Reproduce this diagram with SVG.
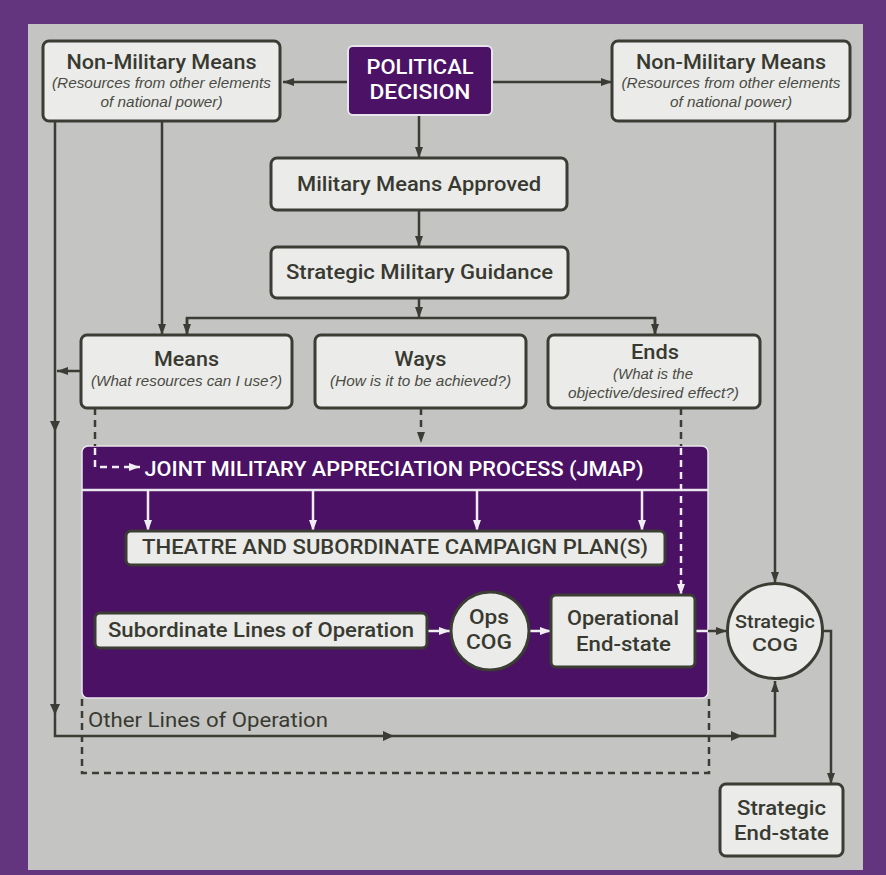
<svg xmlns="http://www.w3.org/2000/svg" width="886" height="875" viewBox="0 0 886 875">
<defs>
<style>
.box{fill:#ebebe9;stroke:#3b3d34;stroke-width:3}
.t{font-family:Roboto,"Liberation Sans",Arial,sans-serif;fill:#383a31;text-anchor:middle;font-weight:500}
.h{font-size:21px}
.m{font-size:20px}
.s{font-size:18px}
.i{font-family:"Liberation Sans",Arial,sans-serif;font-size:15px;font-style:italic;font-weight:normal;fill:#4a4b45}
.w{fill:#ffffff}
.ln{fill:none;stroke:#3b3d34;stroke-width:2.5}
.lw{fill:none;stroke:#f0eef2;stroke-width:2.5}
.d{stroke-dasharray:7 5}
</style>
<marker id="ad" markerUnits="userSpaceOnUse" markerWidth="12" markerHeight="10" refX="11" refY="5" orient="auto"><path d="M0,1 L11,5 L0,9 z" fill="#3b3d34"/></marker>
<marker id="aw" markerUnits="userSpaceOnUse" markerWidth="12" markerHeight="10" refX="11" refY="5" orient="auto"><path d="M0,1 L11,5 L0,9 z" fill="#f0eef2"/></marker>
</defs>
<rect x="0" y="0" width="886" height="875" fill="#64357f"/>
<rect x="28" y="24" width="835" height="846" fill="#c4c4c2"/>

<g id="jmap">
<rect x="82" y="446" width="626" height="252" rx="6" fill="#4a1165" stroke="#e9e6ec" stroke-width="1.5"/>
<line x1="82" y1="490" x2="708" y2="490" stroke="#e9e6ec" stroke-width="2.5"/>
<text class="t w m" x="394" y="476" textLength="499" lengthAdjust="spacingAndGlyphs">JOINT MILITARY APPRECIATION PROCESS (JMAP)</text>
</g>

<g id="connectors">
<path class="ln" d="M348,82 H283" marker-end="url(#ad)"/>
<path class="ln" d="M492,82 H612" marker-end="url(#ad)"/>
<path class="ln" d="M419,115 V158" marker-end="url(#ad)"/>
<path class="ln" d="M419,210 V247" marker-end="url(#ad)"/>
<path class="ln" d="M419,298 V318" marker-end="url(#ad)"/>
<path class="ln" d="M187,334 V318 H655 V334" />
<path class="ln" d="M187,318 V335" marker-end="url(#ad)"/>
<path class="ln" d="M655,318 V335" marker-end="url(#ad)"/>
<path class="ln" d="M162,121 V335" marker-end="url(#ad)"/>
<path class="ln" d="M55,121 V736 H775 V681" marker-end="url(#ad)"/>
<path d="M50,421 L55,432 L60,421 z" fill="#3b3d34"/>
<path d="M50,704 L55,715 L60,704 z" fill="#3b3d34"/>
<path d="M383,731 L394,736 L383,741 z" fill="#3b3d34"/>
<path d="M731,731 L742,736 L731,741 z" fill="#3b3d34"/>
<path class="ln" d="M81,371 H57" marker-end="url(#ad)"/>
<path class="ln" d="M775,121 V583" marker-end="url(#ad)"/>
<path class="ln d" d="M95,408 V446"/>
<path class="lw d" d="M95,448 V467 H140" marker-end="url(#aw)"/>
<path class="ln d" d="M421,408 V443" marker-end="url(#ad)"/>
<path class="ln d" d="M681,408 V446"/>
<path class="lw d" d="M681,448 V595" marker-end="url(#aw)"/>
<path class="lw" d="M148,490 V531" marker-end="url(#aw)"/>
<path class="lw" d="M313,490 V531" marker-end="url(#aw)"/>
<path class="lw" d="M477,490 V531" marker-end="url(#aw)"/>
<path class="lw" d="M642,490 V531" marker-end="url(#aw)"/>
<path class="lw" d="M427,631 H450" marker-end="url(#aw)"/>
<path class="lw" d="M529,631 H551" marker-end="url(#aw)"/>
<path class="lw" d="M695,631 H708"/>
<path class="ln" d="M708,631 H727" marker-end="url(#ad)"/>
<path class="ln" d="M822,631 H831 V784" marker-end="url(#ad)"/>
<path class="ln d" d="M82,699 V773 H709 V699"/>
</g>

<g id="nmm-left">
<rect class="box" x="43" y="41" width="237" height="80" rx="6"/>
<text class="t h" x="161.5" y="69" textLength="190" lengthAdjust="spacingAndGlyphs">Non-Military Means</text>
<text class="t i" x="161.5" y="88" textLength="219" lengthAdjust="spacingAndGlyphs">(Resources from other elements</text>
<text class="t i" x="161.5" y="107" textLength="122" lengthAdjust="spacingAndGlyphs">of national power)</text>
</g>

<g id="political">
<rect x="348" y="46" width="144" height="69" rx="5" fill="#4b1266" stroke="#e6e3ea" stroke-width="2"/>
<text class="t w m" x="420" y="74" textLength="107" lengthAdjust="spacingAndGlyphs">POLITICAL</text>
<text class="t w m" x="420" y="99" textLength="101" lengthAdjust="spacingAndGlyphs">DECISION</text>
</g>

<g id="nmm-right">
<rect class="box" x="612" y="41" width="238" height="80" rx="6"/>
<text class="t h" x="731" y="69" textLength="190" lengthAdjust="spacingAndGlyphs">Non-Military Means</text>
<text class="t i" x="731" y="88" textLength="219" lengthAdjust="spacingAndGlyphs">(Resources from other elements</text>
<text class="t i" x="731" y="107" textLength="122" lengthAdjust="spacingAndGlyphs">of national power)</text>
</g>

<g id="mma">
<rect class="box" x="271" y="158" width="296" height="52" rx="6"/>
<text class="t m" x="419" y="191" textLength="244" lengthAdjust="spacingAndGlyphs">Military Means Approved</text>
</g>

<g id="smg">
<rect class="box" x="271" y="247" width="297" height="51" rx="6"/>
<text class="t m" x="419.5" y="279" textLength="267" lengthAdjust="spacingAndGlyphs">Strategic Military Guidance</text>
</g>

<g id="means">
<rect class="box" x="81" y="335" width="211" height="73" rx="6"/>
<text class="t h" x="186.5" y="366" textLength="65" lengthAdjust="spacingAndGlyphs">Means</text>
<text class="t i" x="186.5" y="386" textLength="191" lengthAdjust="spacingAndGlyphs">(What resources can I use?)</text>
</g>

<g id="ways">
<rect class="box" x="315" y="335" width="211" height="73" rx="6"/>
<text class="t h" x="420.5" y="366" textLength="52" lengthAdjust="spacingAndGlyphs">Ways</text>
<text class="t i" x="420.5" y="386" textLength="181" lengthAdjust="spacingAndGlyphs">(How is it to be achieved?)</text>
</g>

<g id="ends">
<rect class="box" x="548" y="335" width="212" height="73" rx="6"/>
<text class="t h" x="655" y="359" textLength="48" lengthAdjust="spacingAndGlyphs">Ends</text>
<text class="t i" x="653" y="379" textLength="80" lengthAdjust="spacingAndGlyphs">(What is the</text>
<text class="t i" x="653.5" y="398" textLength="171" lengthAdjust="spacingAndGlyphs">objective/desired effect?)</text>
</g>

<g id="theatre">
<rect class="box" x="126" y="531" width="539" height="34" rx="5"/>
<text class="t m" x="395" y="554" textLength="506" lengthAdjust="spacingAndGlyphs">THEATRE AND SUBORDINATE CAMPAIGN PLAN(S)</text>
</g>

<g id="sublines">
<rect class="box" x="95" y="613" width="332" height="35" rx="5"/>
<text class="t m" x="261" y="637" textLength="306" lengthAdjust="spacingAndGlyphs">Subordinate Lines of Operation</text>
</g>

<g id="opscog">
<circle class="box" cx="490" cy="631" r="39"/>
<text class="t m" x="489" y="624" textLength="40" lengthAdjust="spacingAndGlyphs">Ops</text>
<text class="t m" x="489" y="649" textLength="46" lengthAdjust="spacingAndGlyphs">COG</text>
</g>

<g id="opend">
<rect class="box" x="551" y="595" width="144" height="72" rx="5"/>
<text class="t m" x="623" y="625" textLength="112" lengthAdjust="spacingAndGlyphs">Operational</text>
<text class="t m" x="623.5" y="651" textLength="95" lengthAdjust="spacingAndGlyphs">End-state</text>
</g>

<g id="stratcog">
<circle class="box" cx="775" cy="631" r="47.5"/>
<text class="t s" x="775" y="628" textLength="80" lengthAdjust="spacingAndGlyphs">Strategic</text>
<text class="t s" x="775" y="651" textLength="46" lengthAdjust="spacingAndGlyphs">COG</text>
</g>

<g id="stratend">
<rect class="box" x="720" y="784" width="123" height="72" rx="6"/>
<text class="t m" x="781.5" y="815" textLength="89" lengthAdjust="spacingAndGlyphs">Strategic</text>
<text class="t m" x="781.5" y="840" textLength="95" lengthAdjust="spacingAndGlyphs">End-state</text>
</g>

<g id="other">
<text class="t m" x="208" y="727" textLength="240" lengthAdjust="spacingAndGlyphs" style="font-weight:normal">Other Lines of Operation</text>
</g>
</svg>
